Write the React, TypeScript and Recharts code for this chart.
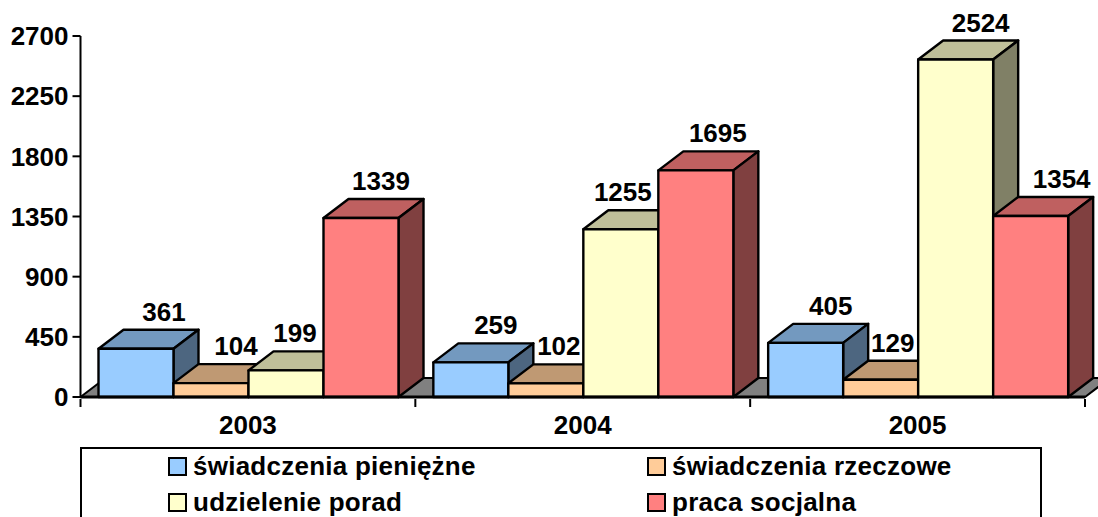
import { Bar, BarChart, LabelList, ReferenceArea, XAxis, YAxis } from "recharts";

const years = ["2003", "2004", "2005"];
const pieniezne = [361, 259, 405];
const rzeczowe = [104, 102, 129];
const porady = [199, 1255, 2524];
const praca = [1339, 1695, 1354];
const yTicks = [0, 450, 900, 1350, 1800, 2250, 2700];

const rows = years.map((year, i) => ({
  year,
  pieniezne: pieniezne[i],
  rzeczowe: rzeczowe[i],
  porady: porady[i],
  praca: praca[i],
}));

const FONT = "'Liberation Sans', Arial, sans-serif";
const DX = 25;
const DY = 19;

const series = [
  { key: "pieniezne", name: "świadczenia pieniężne", front: "#99ccff", top: "#7399bf", side: "#4d6680", shift: [3, 0, 0] },
  { key: "rzeczowe", name: "świadczenia rzeczowe", front: "#ffcc99", top: "#bf9973", side: "#80664d", shift: [0, -12, -13] },
  { key: "porady", name: "udzielenie porad", front: "#ffffcc", top: "#bfbf99", side: "#808066", shift: [-16, -23, 0] },
  { key: "praca", name: "praca socjalna", front: "#ff8080", top: "#bf6060", side: "#804040", shift: [-5, -3, 6] },
];

function Box3D({ x, y, width, height, front, top, side }: any) {
  const common = { stroke: "#000", strokeWidth: 2.4, strokeLinejoin: "round" as const };
  const r = x + width;
  const b = y + height;
  return (
    <g>
      <polygon {...common} fill={top} points={`${x},${y} ${x + DX},${y - DY} ${r + DX},${y - DY} ${r},${y}`} />
      <polygon {...common} fill={side} points={`${r},${y} ${r + DX},${y - DY} ${r + DX},${b - DY} ${r},${b}`} />
      <rect {...common} x={x} y={y} width={width} height={height} fill={front} />
    </g>
  );
}

function Floor({ x, y, width, height }: any) {
  const b = y + height;
  return (
    <polygon
      fill="#808080"
      stroke="#000"
      strokeWidth={2}
      points={`${x},${b} ${x + DX},${b - DY} ${x + width + DX},${b - DY} ${x + width},${b}`}
    />
  );
}

function ValueLabel({ x, y, width, value, index, shift }: any) {
  return (
    <text
      x={x + width / 2 + DX + shift[index]}
      y={y - DY - 9}
      textAnchor="middle"
      fontFamily={FONT}
      fontWeight="bold"
      fontSize={26}
      fill="#000"
    >
      {value}
    </text>
  );
}

// category ticks sit on the band edges, the label stays in the middle
function YearTick({ x, y, width, payload, index }: any) {
  const half = width / years.length / 2;
  const axisY = y - 8;
  return (
    <g>
      <line x1={x - half} x2={x - half} y1={axisY} y2={axisY + 8} stroke="#000" strokeWidth={2} />
      {index === years.length - 1 && (
        <line x1={x + half} x2={x + half} y1={axisY} y2={axisY + 8} stroke="#000" strokeWidth={2} />
      )}
      <text x={x} y={axisY + 35} textAnchor="middle" fontFamily={FONT} fontWeight="bold" fontSize={26} fill="#000">
        {payload.value}
      </text>
    </g>
  );
}

function LegendBox() {
  return (
    <div
      style={{
        position: "absolute",
        left: 80,
        top: 447,
        width: 958,
        height: 80,
        border: "2px solid #000",
        boxSizing: "content-box",
        fontFamily: FONT,
        fontWeight: "bold",
        fontSize: 26,
        letterSpacing: 0.25,
      }}
    >
      {series.map((s, i) => (
        <div
          key={s.key}
          style={{
            position: "absolute",
            left: i % 2 === 0 ? 86 : 565,
            top: i < 2 ? 2 : 38,
            display: "flex",
            alignItems: "center",
            whiteSpace: "nowrap",
            lineHeight: "30px",
          }}
        >
          <span
            style={{
              width: 15,
              height: 15,
              background: s.front,
              border: "2px solid #000",
              marginRight: 6,
            }}
          />
          {s.name}
        </div>
      ))}
    </div>
  );
}

export default function App() {
  return (
    <div style={{ position: "absolute", left: 0, top: 0, width: 1098, height: 517, overflow: "hidden", background: "#fff" }}>
      <BarChart
        width={1098}
        height={517}
        data={rows}
        margin={{ top: 36, right: 13, bottom: 90, left: 0 }}
        barCategoryGap={18}
        barGap={0}
        style={{ position: "absolute", left: 0, top: 0 }}
      >
        <XAxis
          dataKey="year"
          axisLine={{ stroke: "#000", strokeWidth: 3 }}
          tickLine={false}
          tickSize={8}
          tick={<YearTick />}
        />
        <YAxis
          width={80.5}
          domain={[0, 2700]}
          ticks={yTicks}
          interval={0}
          axisLine={{ stroke: "#000", strokeWidth: 2 }}
          tickLine={{ stroke: "#000", strokeWidth: 2 }}
          tickSize={8}
          tickMargin={4}
          tick={{ fill: "#000", fontFamily: FONT, fontWeight: "bold", fontSize: 26 }}
        />
        <ReferenceArea y1={0} y2={2700} shape={<Floor />} fill="none" />
        {series.map((s) => (
          <Bar
            key={s.key}
            dataKey={s.key}
            isAnimationActive={false}
            shape={<Box3D front={s.front} top={s.top} side={s.side} />}
          >
            <LabelList dataKey={s.key} content={<ValueLabel shift={s.shift} />} />
          </Bar>
        ))}
      </BarChart>
      <LegendBox />
    </div>
  );
}
